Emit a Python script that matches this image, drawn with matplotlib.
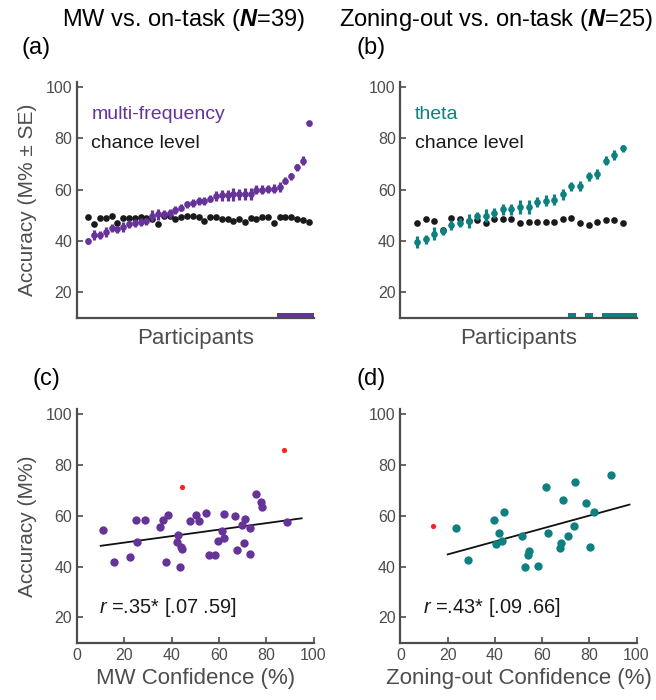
import numpy as np
import matplotlib
matplotlib.use("Agg")
import matplotlib.pyplot as plt

plt.rcParams['font.family'] = ['Liberation Sans', 'DejaVu Sans']
plt.rcParams['mathtext.fontset'] = 'custom'
plt.rcParams['mathtext.rm'] = 'Liberation Sans'
plt.rcParams['mathtext.it'] = 'Liberation Sans:italic'
plt.rcParams['mathtext.bf'] = 'Liberation Sans:bold'
plt.rcParams['mathtext.bfit'] = 'Liberation Sans:italic:bold'

PURPLE = '#663399'
TEAL = '#0f8080'
RED = '#ff2020'
GREY = '#4d4d4d'

# (a) MW vs on-task, multi-frequency classifier, participants sorted
mf_acc = [40.0, 42.3, 42.3, 43.6, 44.9, 44.5, 45.4, 46.7, 47.1, 47.4, 47.7, 49.9, 50.3,
          50.6, 50.7, 52.0, 52.9, 54.2, 54.8, 55.5, 55.7, 56.5, 57.4, 57.8, 57.8, 58.1,
          58.1, 58.3, 58.3, 60.0, 60.0, 60.3, 60.4, 60.9, 63.5, 65.2, 68.6, 71.2, 85.8]
mf_se = [1.3, 1.8, 1.5, 2.0, 1.6, 1.5, 2.0, 1.5, 1.6, 1.5, 1.4, 2.2, 2.0, 1.6, 1.6, 1.5,
         1.4, 1.3, 1.4, 1.5, 1.6, 1.5, 2.0, 2.2, 2.2, 2.4, 2.3, 2.5, 2.5, 1.8, 1.6, 1.6,
         1.6, 1.9, 1.3, 1.4, 1.5, 1.8, 1.0]
mf_chance = [49.4, 46.5, 49.0, 49.0, 49.7, 46.8, 49.0, 49.0, 49.0, 49.4, 49.0, 48.6, 46.7,
             49.7, 49.7, 48.6, 49.4, 49.7, 49.7, 49.4, 47.7, 49.4, 49.4, 48.6, 48.6, 47.7,
             48.6, 47.4, 49.0, 48.6, 49.3, 49.4, 47.1, 49.3, 49.4, 49.3, 48.6, 48.1, 47.5]
mf_sig = [34, 35, 36, 37, 38, 39]

# (b) zoning-out vs on-task, theta classifier
th_acc = [39.6, 40.6, 42.8, 43.9, 46.2, 47.1, 47.7, 49.7, 49.9, 51.0, 52.3, 52.3, 53.2,
          53.2, 55.1, 55.7, 56.1, 58.1, 61.3, 61.3, 65.2, 66.1, 71.2, 73.5, 76.1]
th_se = [2.5, 1.8, 2.6, 1.6, 2.0, 1.8, 2.6, 1.6, 2.4, 2.0, 2.2, 2.2, 2.6, 2.6, 2.0, 2.2,
         2.0, 2.0, 1.8, 2.0, 1.8, 2.0, 1.8, 1.8, 1.3]
th_chance = [46.8, 48.4, 47.7, 44.3, 49.0, 48.6, 47.7, 48.1, 46.8, 48.6, 48.6, 48.6, 46.8,
             47.4, 47.4, 47.4, 47.4, 48.4, 49.0, 46.8, 46.1, 47.5, 48.0, 48.1, 46.8]
th_sig = [19, 21, 23, 24, 25]

# (c) accuracy vs MW confidence
c_conf = [11.0, 15.5, 22.3, 24.9, 25.2, 28.9, 35.3, 36.3, 38.6, 37.6, 42.5, 42.1, 43.9,
          44.4, 43.5, 47.6, 50.3, 51.4, 54.6, 56.0, 58.4, 59.8, 61.3, 62.2, 62.2, 67.0,
          67.7, 70.4, 70.9, 69.6, 73.1, 73.2, 75.5, 78.0, 78.4, 88.8]
c_acc = [54.3, 41.7, 43.6, 58.2, 49.5, 58.2, 55.4, 58.3, 60.1, 41.7, 52.5, 49.7, 47.8,
         47.0, 39.9, 58.0, 60.3, 58.0, 60.9, 44.5, 44.7, 49.9, 53.9, 51.3, 60.5, 60.0,
         46.6, 49.3, 58.6, 56.4, 55.0, 45.0, 68.6, 65.4, 63.3, 57.4]
c_out_conf = [44.5, 87.7]
c_out_acc = [71.2, 85.9]
c_fit_range = [10, 95]

# (d) accuracy vs zoning-out confidence
d_conf = [23.7, 28.4, 39.6, 41.6, 40.3, 43.2, 43.8, 51.3, 54.4, 53.9, 52.7, 58.4, 61.8,
          62.5, 67.6, 67.9, 69.0, 71.1, 73.6, 73.9, 78.6, 80.3, 81.8, 89.1]
d_acc = [55.2, 42.4, 58.2, 53.1, 48.9, 50.1, 61.4, 51.9, 46.3, 44.7, 39.7, 40.4, 71.1,
         53.1, 47.3, 49.2, 66.3, 51.9, 56.1, 73.3, 65.1, 47.6, 61.3, 76.2]
d_out_conf = [13.7]
d_out_acc = [55.8]
d_fit_range = [20, 97]


def style(ax, xticks):
    for s in ['top', 'right']:
        ax.spines[s].set_visible(False)
    for s in ['left', 'bottom']:
        ax.spines[s].set_color(GREY)
        ax.spines[s].set_linewidth(1.6)
    ax.set_ylim(10, 102)
    ax.set_yticks([20, 40, 60, 80, 100])
    ax.tick_params(direction='in', length=4, width=1.2, color=GREY,
                   labelcolor=GREY, labelsize=11.5)
    if not xticks:
        ax.set_xticks([])


def participants(ax, acc, se, chance, sig, color, xmax, name):
    n = len(acc)
    x = np.arange(1, n + 1)
    ax.plot(x, chance, 'o', color='#1a1a1a', ms=4.8, mew=0, zorder=3)
    ax.errorbar(x, acc, yerr=se, fmt='o', color=color, ms=4.8, mew=0,
                elinewidth=2.3, capsize=0, zorder=4)
    # significance bars along the bottom
    runs = []
    for i in sig:
        if runs and i == runs[-1][1] + 1:
            runs[-1][1] = i
        else:
            runs.append([i, i])
    for a, b in runs:
        right = xmax if b == n else b + 0.5
        ax.fill_between([a - 0.4, right], 10, 12, color=color, lw=0)
    ax.set_xlim(-0.95, xmax)
    style(ax, False)
    ax.text(0.06, 0.86, name, color=color, fontsize=14, transform=ax.transAxes,
            va='center')
    ax.text(0.06, 0.74, 'chance level', color='#1a1a1a', fontsize=14,
            transform=ax.transAxes, va='center')
    ax.set_xlabel('Participants', fontsize=16, color=GREY, labelpad=7)


def scatter(ax, conf, acc, out_conf, out_acc, fit_range, color, xlabel, rtext):
    ax.scatter(conf, acc, s=36, color=color, lw=0, zorder=3)
    ax.scatter(out_conf, out_acc, s=14, color=RED, lw=0, zorder=3)
    slope, icpt = np.polyfit(conf, acc, 1)
    fx = np.array(fit_range)
    ax.plot(fx, slope * fx + icpt, color='#111111', lw=1.3, zorder=2)
    ax.set_xlim(0, 100)
    ax.set_xticks([0, 20, 40, 60, 80, 100])
    style(ax, True)
    ax.text(9.5, 24, rtext, fontsize=14.4, color='#1a1a1a', va='center')
    ax.set_xlabel(xlabel, fontsize=16, color=GREY, labelpad=4)


fig = plt.figure(figsize=(6.56, 7.0), dpi=100)
ax_a = fig.add_axes([0.1174, 0.5457, 0.3605, 0.3376])
ax_b = fig.add_axes([0.6105, 0.5457, 0.3598, 0.3376])
ax_c = fig.add_axes([0.1174, 0.0817, 0.3605, 0.3341])
ax_d = fig.add_axes([0.6105, 0.0817, 0.3598, 0.3341])

participants(ax_a, mf_acc, mf_se, mf_chance, mf_sig, PURPLE, 39.83, 'multi-frequency')
participants(ax_b, th_acc, th_se, th_chance, th_sig, TEAL, 26.6, 'theta')
ax_a.set_ylabel('Accuracy (M% ± SE)', fontsize=15, color=GREY, labelpad=6)

scatter(ax_c, c_conf, c_acc, c_out_conf, c_out_acc, c_fit_range, PURPLE,
        'MW Confidence (%)', r'$r$ =.35* [.07 .59]')
scatter(ax_d, d_conf, d_acc, d_out_conf, d_out_acc, d_fit_range, TEAL,
        'Zoning-out Confidence (%)', r'$r$ =.43* [.09 .66]')
ax_c.set_ylabel('Accuracy (M%)', fontsize=15, color=GREY, labelpad=6)

fig.text(183 / 656, 1 - 20 / 700, r'MW vs. on-task ($\mathbfit{N}$=39)',
         fontsize=17, ha='center', va='center')
fig.text(496 / 656, 1 - 20 / 700, r'Zoning-out vs. on-task ($\mathbfit{N}$=25)',
         fontsize=17, ha='center', va='center')
for lab, x, y in [('(a)', 36, 48), ('(b)', 371, 48), ('(c)', 46, 379), ('(d)', 371, 379)]:
    fig.text(x / 656, 1 - y / 700, lab, fontsize=17, ha='center', va='center')

fig.savefig('out.png', dpi=100)
